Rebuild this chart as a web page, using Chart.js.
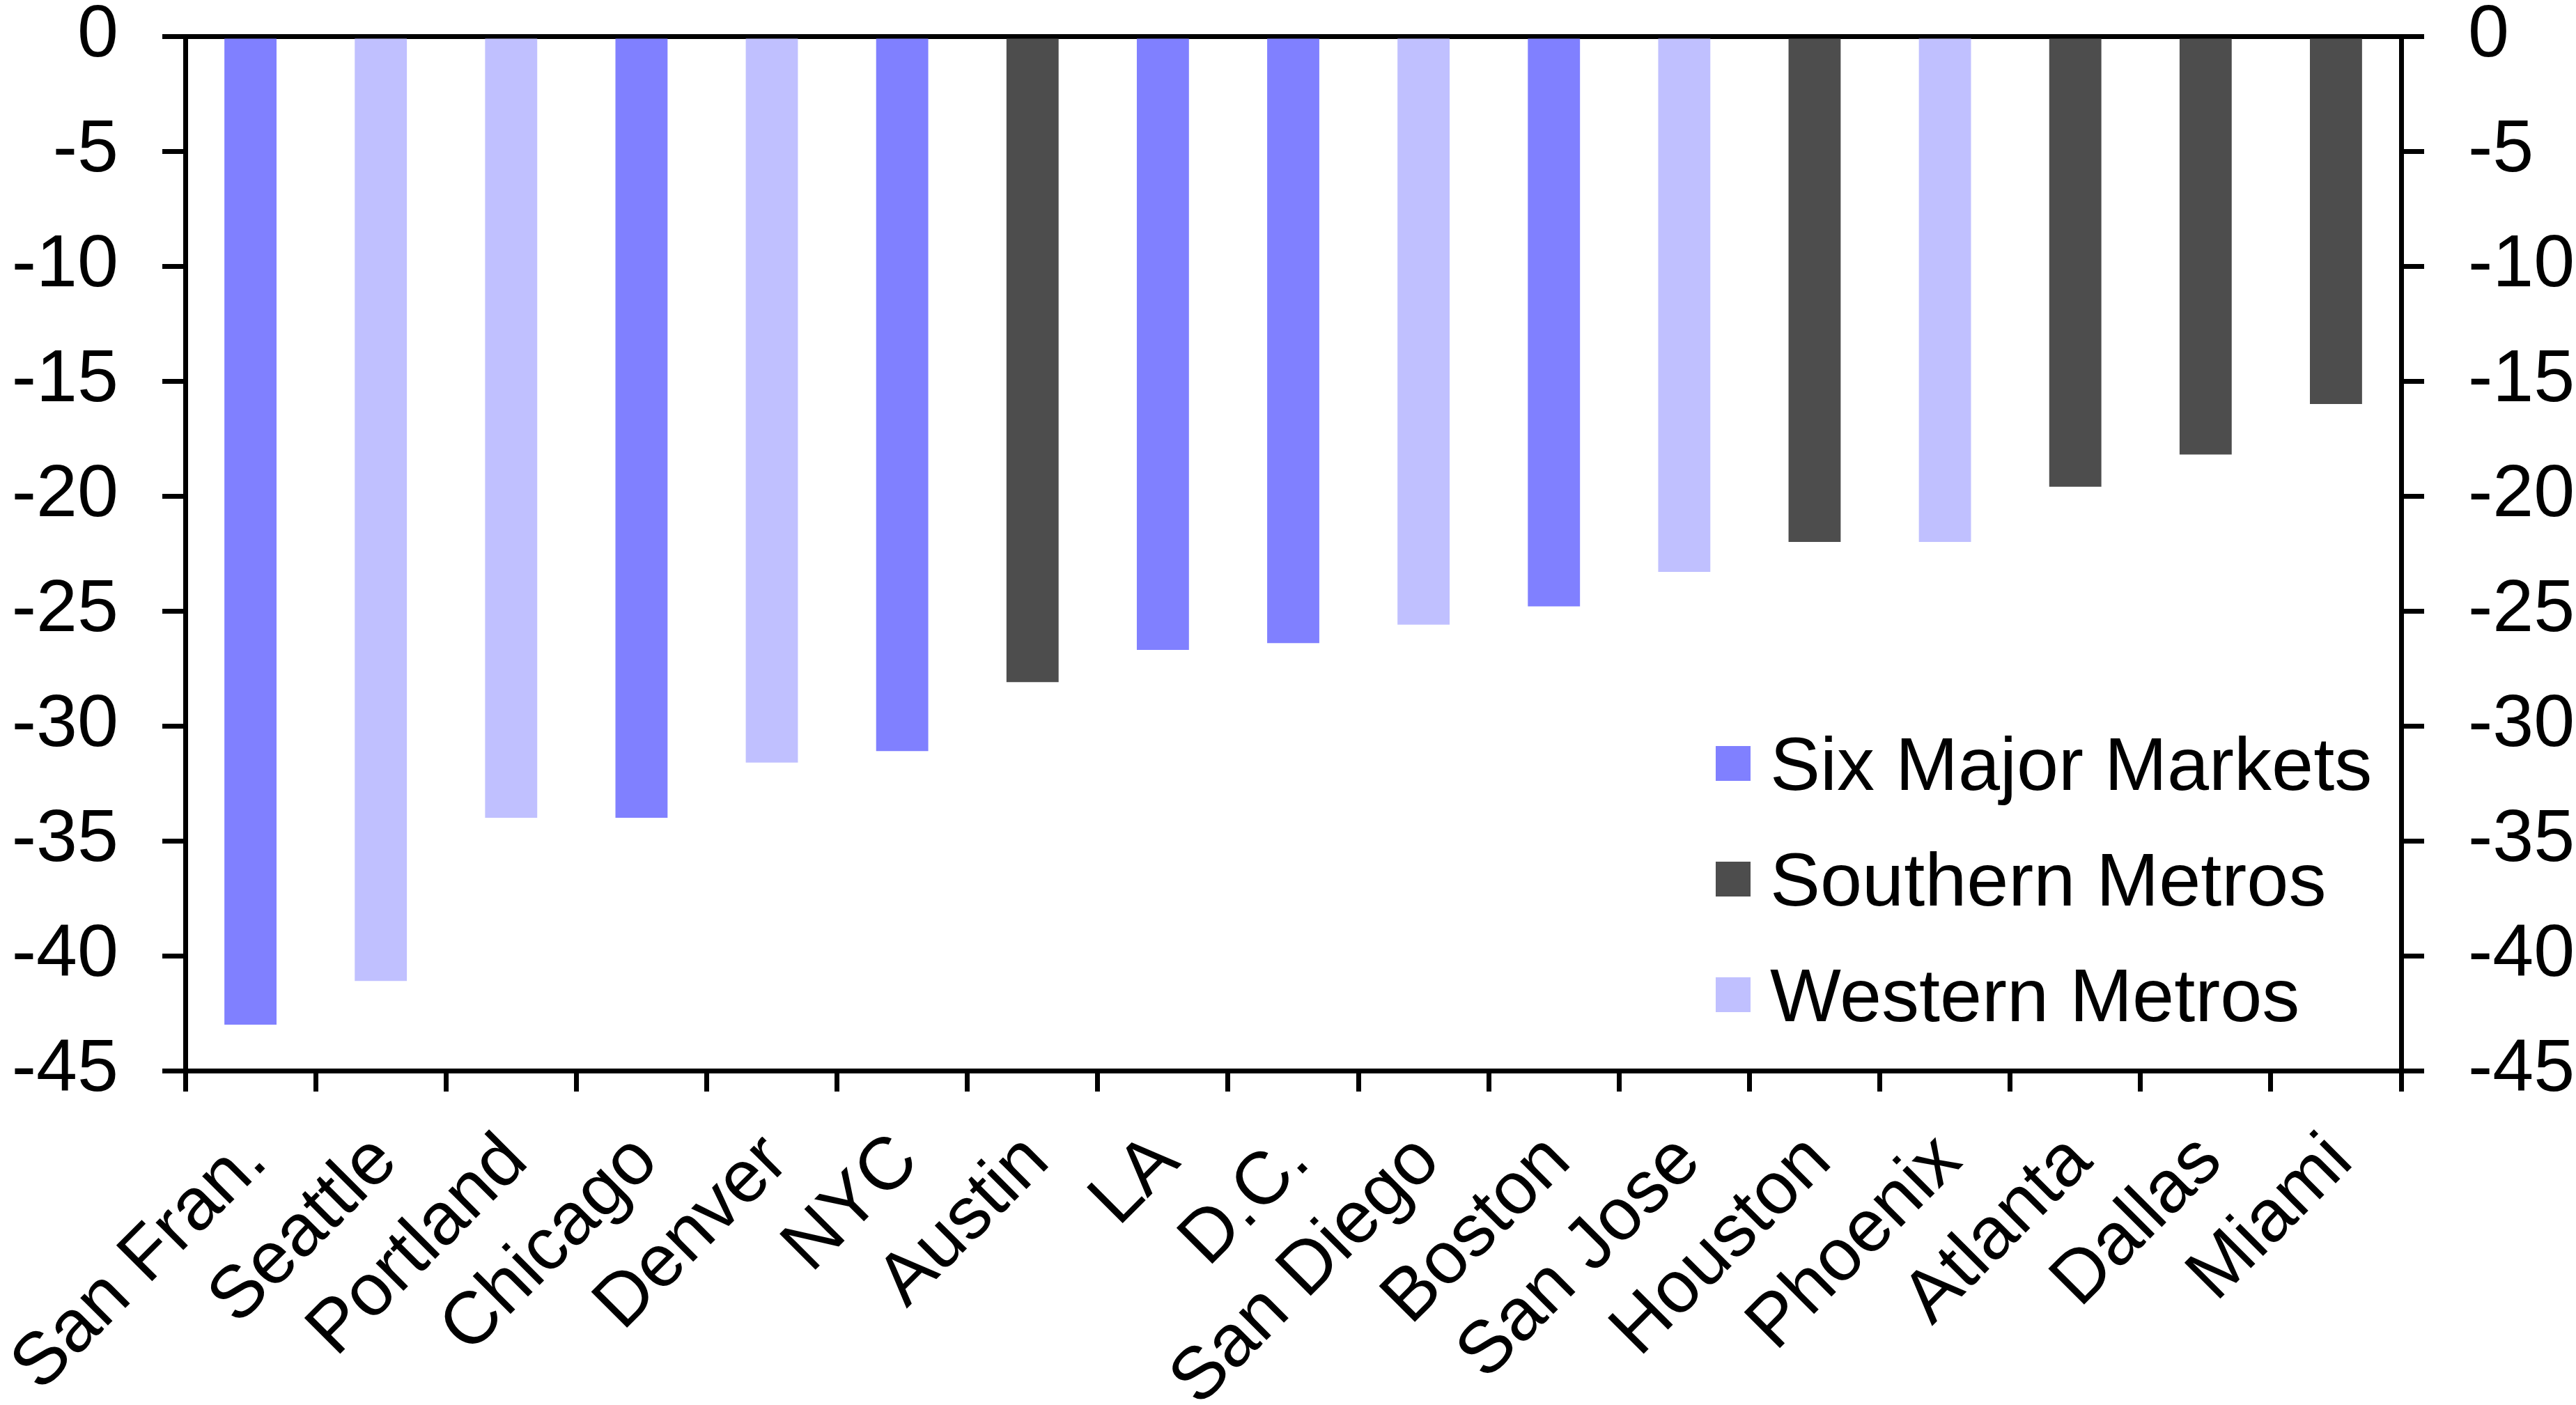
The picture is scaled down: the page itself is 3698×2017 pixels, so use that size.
<!DOCTYPE html>
<html>
<head>
<meta charset="utf-8">
<script src="https://cdn.jsdelivr.net/npm/chart.js@4.4.1/dist/chart.umd.min.js"></script>
<style>
    html, body { margin: 0; padding: 0; background: #fff; }
    #wrap { position: relative; width: 3698px; height: 2017px; }
    #legend { position: absolute; left: 2463px; top: 1013px; font-family: "Liberation Sans", Arial, sans-serif; font-size: 108px; color: #000; }
    .row { display: flex; align-items: center; height: 166px; white-space: nowrap; }
    .box { width: 50px; height: 50px; margin-right: 28px; }
</style>
</head>
<body>
<div id="wrap">
    <canvas id="chart"></canvas>
    <div id="legend"></div>
</div>
<script>
const cities = ["San Fran.", "Seattle", "Portland", "Chicago", "Denver", "NYC", "Austin", "LA", "D.C.",
    "San Diego", "Boston", "San Jose", "Houston", "Phoenix", "Atlanta", "Dallas", "Miami"];
const changes = [-43.0, -41.1, -34.0, -34.0, -31.6, -31.1, -28.1, -26.7, -26.4,
    -25.6, -24.8, -23.3, -22.0, -22.0, -19.6, -18.2, -16.0];
const groups = ["Six Major Markets", "Western Metros", "Western Metros", "Six Major Markets", "Western Metros",
    "Six Major Markets", "Southern Metros", "Six Major Markets", "Six Major Markets", "Western Metros",
    "Six Major Markets", "Western Metros", "Southern Metros", "Western Metros", "Southern Metros",
    "Southern Metros", "Southern Metros"];
const seriesNames = ["Six Major Markets", "Southern Metros", "Western Metros"];
const seriesColors = ["#8080ff", "#4d4d4d", "#c0c0ff"];
const yMin = -45;
const yMax = 0;
const yStep = 5;

Chart.defaults.font.family = '"Liberation Sans", Arial, sans-serif';
Chart.defaults.color = "#000";

// une série par groupe, les autres villes à null
const datasets = seriesNames.map((name, i) => ({
    label: name,
    data: changes.map((v, j) => groups[j] === name ? v : null),
    backgroundColor: seriesColors[i],
    grouped: false,
    barPercentage: 0.4,
    categoryPercentage: 1
}));

const legend = document.getElementById("legend");
seriesNames.forEach((name, i) => {
    legend.innerHTML += `<div class="row"><div class="box" style="background:${seriesColors[i]}"></div>${name}</div>`;
});

const yAxis = (position, width) => ({
    position,
    min: yMin,
    max: yMax,
    ticks: { stepSize: yStep, padding: 63, font: { size: 106, lineHeight: 1 } },
    grid: {
        drawOnChartArea: position === "left",
        color: ctx => ctx.tick && ctx.tick.value === 0 ? "#000" : "rgba(0,0,0,0)",
        tickColor: "#000",
        lineWidth: 7,
        tickWidth: 7,
        tickLength: 33
    },
    border: { color: "#000", width: 7 },
    afterFit: scale => {
        scale.width = width;
        scale.paddingTop = 0;
        scale.paddingBottom = 0;
    }
});

new Chart(document.getElementById("chart").getContext("2d"), {
    type: "bar",
    data: { labels: cities, datasets },
    options: {
        responsive: true,
        maintainAspectRatio: false,
        animation: false,
        layout: { padding: { top: 52, left: 0, right: 0, bottom: 0 } },
        plugins: { legend: { display: false }, tooltip: { enabled: false } },
        scales: {
            x: {
                ticks: { autoSkip: false, minRotation: 45, maxRotation: 45, padding: 38, labelOffset: 7, font: { size: 106 } },
                grid: { drawOnChartArea: false, color: "#000", lineWidth: 7, tickLength: 30, offset: true },
                border: { color: "#000", width: 7 },
                afterFit: scale => {
                    scale.height = 480;
                    scale.paddingLeft = 0;
                    scale.paddingRight = 0;
                }
            },
            y: yAxis("left", 266),
            y2: yAxis("right", 251)
        }
    }
});
</script>
</body>
</html>
